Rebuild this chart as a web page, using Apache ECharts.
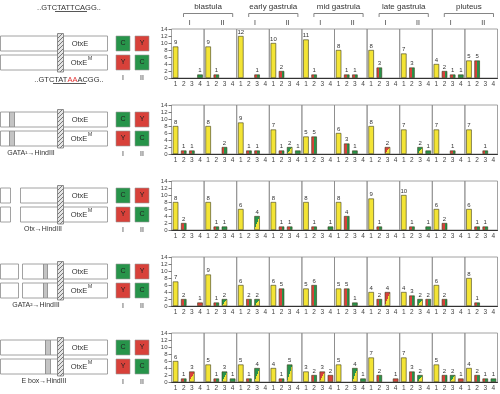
<!DOCTYPE html>
<html><head><meta charset="utf-8">
<script src="https://cdn.jsdelivr.net/npm/echarts@6/dist/echarts.min.js"></script>
<style>html,body{margin:0;padding:0;background:#fff}#c{width:500px;height:394px}</style>
</head><body><div id="c"></div>
<script>
// ---- data ----
const stages = ['blastula', 'early gastrula', 'mid gastrula', 'late gastrula', 'pluteus'];
const columns = ['I', 'II'];
const barNames = ['1', '2', '3', '4'];
const yMin = 0, yMax = 14, yStep = 2;
// values per panel (10 panels per row: stage x column), bars 1..4
const row1 = [[9,0,0,1],[9,1,0,0],[12,0,1,0],[10,2,0,0],[11,1,0,0],[8,1,1,0],[8,3,0,0],[7,3,0,0],[4,2,1,1],[5,5,0,0]];
const row2 = [[8,1,1,0],[8,0,2,0],[9,1,1,0],[7,1,2,1],[5,5,0,0],[6,3,1,0],[8,0,2,0],[7,0,2,1],[7,0,1,0],[7,0,1,0]];
const row3 = [[8,2,0,0],[8,1,1,0],[6,0,4,0],[8,1,1,0],[8,1,0,1],[8,4,0,0],[9,1,0,0],[10,1,0,1],[6,2,0,0],[6,1,1,0]];
const row4 = [[7,2,0,1],[9,1,2,0],[6,2,2,0],[6,5,0,0],[5,6,0,0],[5,5,1,0],[4,2,4,0],[4,3,2,2],[6,2,0,0],[8,1,0,0]];
const row5 = [[6,1,3,0],[5,1,3,1],[5,1,4,0],[4,1,5,0],[3,2,3,2],[5,0,4,1],[7,2,0,1],[7,3,2,0],[5,2,2,1],[4,2,1,1]];
// fill kind per bar: Y yellow, B red|green, G green, R red, D green/yellow, E red/yellow
const row1Fill = ['Y--G','YB--','Y-B-','YB--','YB--','YBB-','YB--','YB--','YBBG','YB--'];
const row2Fill = ['YBB-','Y-B-','YBB-','YBDG','YB--','YBG-','Y-E-','Y-DG','Y-B-','Y-B-'];
const row3Fill = ['YB--','YBG-','Y-D-','YBB-','YB-G','YB--','YB--','YB-G','YB--','YBB-'];
const row4Fill = ['YB-R','YBD-','YBD-','YB--','YB--','YBG-','YBE-','YBDB','YB--','YB--'];
const row5Fill = ['YBE-','YBDG','YBD-','YBD-','YBER','Y-DG','YB-R','YBD-','YBDR','YBBG'];
const construct = ['OtxE', 'OtxE'];
const mutations = ['', 'GATA¹→HindIII', 'Otx→HindIII', 'GATA²→HindIII', 'E box→HindIII'];

const rows = [row1, row2, row3, row4, row5];
const fills = [row1Fill, row2Fill, row3Fill, row4Fill, row5Fill];

// ---- layout / style ----
const FONT = '"Liberation Sans", Arial, sans-serif';
const PX0 = 171.5, PW = 32.6, PH = 49;
const ROW_TOP = [29, 105, 181, 257, 333];
const BARW = 5.5;
const YEL = '#f3e435', RED = '#d8413a', GRN = '#27944a';

function fillFor(k, v) {
  if (k === 'Y') return YEL;
  if (k === 'G') return GRN;
  if (k === 'R') return RED;
  if (k === 'B') return {type:'linear', x:0, y:0, x2:1, y2:0, colorStops:[
    {offset:0,color:RED},{offset:0.5,color:RED},{offset:0.5,color:GRN},{offset:1,color:GRN}]};
  const c = k === 'D' ? GRN : RED;
  const h = Math.max(1, v * PH / (yMax - yMin)), w = BARW;
  const a = h / w * 0.1, b = w / h * 0.1;
  return {type:'linear', x:0.5 - a, y:0.5 - b, x2:0.5 + a, y2:0.5 + b, colorStops:[
    {offset:0,color:c},{offset:0.5,color:c},{offset:0.5,color:YEL},{offset:1,color:YEL}]};
}

const grid = [], xAxis = [], yAxis = [], series = [];
rows.forEach((row, r) => {
  row.forEach((vals, p) => {
    const idx = grid.length;
    grid.push({left: PX0 + p * PW, top: ROW_TOP[r], width: PW, height: PH,
      show: true, borderColor: '#8a8a8a', borderWidth: 0.8});
    xAxis.push({gridIndex: idx, type: 'category', data: barNames,
      axisLine: {lineStyle: {color: '#333', width: 1}}, axisTick: {show: false},
      axisLabel: {fontSize: 6.5, color: '#444', margin: 3, interval: 0, fontFamily: FONT}});
    yAxis.push({gridIndex: idx, type: 'value', min: yMin, max: yMax, interval: yStep,
      splitLine: {show: false}, axisLine: {show: false},
      axisTick: {show: p === 0, length: 3, lineStyle: {color: '#555', width: 0.8}},
      axisLabel: {show: p === 0, fontSize: 6, color: '#444', margin: 4, fontFamily: FONT}});
    series.push({type: 'bar', xAxisIndex: idx, yAxisIndex: idx, barWidth: BARW,
      animation: false,
      itemStyle: {borderColor: '#3a3a1a', borderWidth: 0.6},
      label: {show: true, position: 'top', distance: 1, fontSize: 6, color: '#333', fontFamily: FONT},
      data: vals.map((v, i) => v > 0
        ? {value: v, itemStyle: {color: fillFor(fills[r][p][i], v)}}
        : '-')});
  });
});

// ---- graphics (headers, construct diagrams) ----
const G = [];
function rect(x, y, w, h, fill, stroke, lw) {
  G.push({type: 'rect', silent: true, shape: {x, y, width: w, height: h},
    style: {fill, stroke: stroke === undefined ? '#8a8a8a' : stroke, lineWidth: lw || 0.8}});
}
function txt(s, x, y, opt) {
  G.push({type: 'text', silent: true, style: Object.assign({text: s, x, y, fill: '#333',
    font: '7px ' + FONT, align: 'center', verticalAlign: 'middle'}, opt || {})});
}
function pline(pts, color) {
  G.push({type: 'polyline', silent: true, shape: {points: pts},
    style: {stroke: color || '#666', lineWidth: 0.9, fill: null}});
}
// header
stages.forEach((s, k) => {
  const x1 = PX0 + 2 * k * PW + 12, x2 = PX0 + (2 * k + 2) * PW - 4;
  txt(s, (x1 + x2) / 2, 7, {font: '8px ' + FONT, fill: '#333'});
  pline([[x1, 17], [x1, 13.5], [x2, 13.5], [x2, 17]], '#777');
  columns.forEach((c, j) => txt(c, PX0 + (2 * k + j + 0.5) * PW + 2, 23, {font: '7px ' + FONT}));
});

// hatch pattern
const hc = document.createElement('canvas'); hc.width = 4; hc.height = 4;
const hx = hc.getContext('2d');
hx.fillStyle = '#e4e4e4'; hx.fillRect(0, 0, 4, 4);
hx.strokeStyle = '#777'; hx.lineWidth = 1;
hx.beginPath(); hx.moveTo(0, 4); hx.lineTo(4, 0); hx.moveTo(-1, 1); hx.lineTo(1, -1); hx.moveTo(3, 5); hx.lineTo(5, 3); hx.stroke();
const HATCH = {image: hc, repeat: 'repeat'};

const diagrams = [
  [[0, 107, 'b']],
  [[0, 9, 'b'], [9, 14, 'g'], [14, 107, 'b']],
  [[0, 10, 'b'], [20, 107, 'b']],
  [[0, 18, 'b'], [22, 43, 'b'], [43, 47, 'g'], [47, 107, 'b']],
  [[0, 45, 'b'], [45, 50, 'g'], [50, 107, 'b']],
];
const mutX = [0, 31, 43, 36, 44];
for (let r = 0; r < 5; r++) {
  const dy = r * 76;
  const tops = [36 + dy, 55 + dy];
  tops.forEach(t => {
    diagrams[r].forEach(([a, b, k]) => rect(a + 0.5, t, b - a, 15, k === 'g' ? '#c4c4c4' : '#fff', '#8a8a8a'));
  });
  rect(57.5, 33.5 + dy, 6, 38.5, HATCH, '#777');
  txt(construct[0], 80, 43.5 + dy, {font: '7.5px ' + FONT});
  txt(construct[1], 79, 62.5 + dy, {font: '7.5px ' + FONT});
  txt('M', 90, 59 + dy, {font: '5px ' + FONT});
  // colour squares
  const sq = [[116, tops[0], GRN, 'C'], [135, tops[0], RED, 'Y'], [116, tops[1], RED, 'Y'], [135, tops[1], GRN, 'C']];
  sq.forEach(([x, y, c, l]) => { rect(x, y, 14, 15, c, '#999', 0.6); txt(l, x + 7, y + 7.5, {font: '7px ' + FONT, fill: '#222'}); });
  txt('I', 123, 78 + dy, {font: '7px ' + FONT});
  txt('II', 142, 78 + dy, {font: '7px ' + FONT});
  if (mutations[r]) txt(mutations[r], mutX[r], 77 + dy, {font: '7px ' + FONT, fill: '#333'});
}
// sequences for row 1
txt('..GTCTATTCAGG..', 69, 8, {font: '7.5px ' + FONT});
pline([[55, 11.5], [87, 11.5]], '#444');
G.push({type: 'text', silent: true, style: {text: '{a|..GTCTAT}{r|AA}{a|ACGG..}', x: 69, y: 80,
  align: 'center', verticalAlign: 'middle',
  rich: {a: {font: '7.5px ' + FONT, fill: '#333'}, r: {font: '7.5px ' + FONT, fill: '#e03030'}}}});
pline([[53, 83.5], [86, 83.5]], '#444');

const chart = echarts.init(document.getElementById('c'));
chart.setOption({animation: false, backgroundColor: '#fff', textStyle: {fontFamily: FONT},
  grid, xAxis, yAxis, series, graphic: G});
</script></body></html>
